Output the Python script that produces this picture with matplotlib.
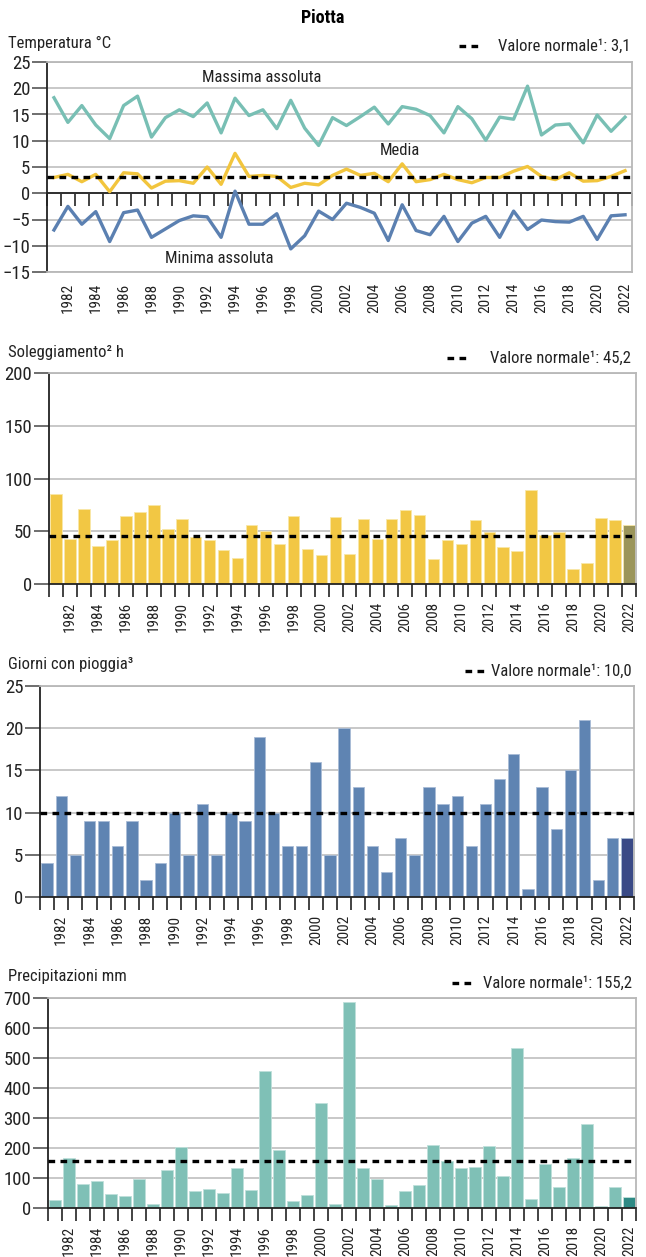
import numpy as np
import matplotlib.pyplot as plt
from matplotlib.lines import Line2D

plt.rcParams['font.family'] = ['Roboto Condensed', 'Roboto', 'DejaVu Sans']

# =============================================
# Data
# =============================================
years = list(range(1981, 2023))

t_max = [18.2, 13.5, 16.7, 13.0, 10.4, 16.7, 18.5, 10.7, 14.4, 15.9,
         14.6, 17.2, 11.5, 18.1, 14.8, 15.9, 12.3, 17.7, 12.4, 9.1,
         14.4, 12.9, 14.6, 16.4, 13.2, 16.5, 16.0, 14.8, 11.5, 16.5,
         14.2, 10.1, 14.5, 14.1, 20.4, 11.1, 13.0, 13.2, 9.6, 14.9,
         11.8, 14.5]
t_mean = [3.0, 3.6, 2.2, 3.6, 0.3, 3.9, 3.7, 1.0, 2.3, 2.4,
          1.9, 5.0, 1.7, 7.6, 3.2, 3.4, 3.2, 1.1, 1.9, 1.6,
          3.4, 4.6, 3.4, 3.8, 2.2, 5.6, 2.2, 2.6, 3.6, 2.6,
          2.0, 3.0, 3.0, 4.2, 5.1, 3.2, 2.6, 3.9, 2.3, 2.4,
          3.2, 4.3]
t_min = [-7.0, -2.5, -5.9, -3.5, -9.2, -3.7, -3.2, -8.4, -6.8, -5.2,
         -4.3, -4.5, -8.4, 0.4, -5.9, -5.9, -3.9, -10.6, -8.1, -3.4,
         -5.0, -1.9, -2.7, -3.8, -9.0, -2.2, -7.1, -7.9, -4.4, -9.2,
         -5.7, -4.4, -8.4, -3.4, -6.9, -5.1, -5.4, -5.5, -4.4, -8.8,
         -4.3, -4.1]
t_normal = 3.1

sunshine = [85.4, 42.7, 71.2, 36.1, 42.1, 64.2, 68.7, 75.0, 52.5, 61.4,
            44.6, 42.1, 32.3, 25.0, 56.0, 50.3, 38.3, 64.6, 32.9, 27.5,
            63.6, 28.5, 61.7, 42.7, 61.4, 69.9, 65.5, 23.7, 41.8, 38.0,
            60.4, 49.7, 35.1, 31.3, 88.9, 46.8, 49.7, 13.9, 19.9, 62.7,
            60.4, 56.0]
sun_normal = 45.2

rain_days = [4, 12, 5, 9, 9, 6, 9, 2, 4, 10,
             5, 11, 5, 10, 9, 19, 10, 6, 6, 16,
             5, 20, 13, 6, 3, 7, 5, 13, 11, 12,
             6, 11, 14, 17, 1, 13, 8, 15, 21, 2,
             7, 7]
rain_normal = 10.0

precip = [28, 167, 80, 89, 48, 39, 98, 14, 127, 204,
          58, 63, 51, 134, 61, 458, 194, 24, 43, 350,
          12, 687, 134, 96, 10, 57, 76, 210, 158, 132,
          138, 208, 106, 532, 31, 148, 70, 168, 281, 6,
          71, 36]
precip_normal = 155.2

# =============================================
# Styling
# =============================================
W, H = 646, 1257
fig = plt.figure(figsize=(W / 100, H / 100), dpi=100)
renderer = fig.canvas.get_renderer()

grid_c = '#c4c4c4'
frame_c = '#b8b8b8'
text_c = '#222222'
x = np.arange(len(years))
bounds = np.arange(-0.5, len(years), 1.0)
label_idx = [i for i, y in enumerate(years) if y % 2 == 0]


def fx(px):
    return px / W


def fy(py):
    return 1 - py / H


def make_axes(left, top, right, bottom):
    return fig.add_axes([fx(left), fy(bottom), fx(right) - fx(left), fy(top) - fy(bottom)])


def style(ax, ylim, yticks, label_pad, minor_ticks=True):
    ax.set_xlim(-0.5, len(years) - 0.5)
    ax.set_ylim(*ylim)
    ax.set_yticks(yticks)
    ax.tick_params(axis='y', length=11, width=1.2, color='#555555', labelsize=13.5,
                   labelcolor=text_c, pad=1)
    ax.yaxis.grid(True, color=grid_c, linewidth=1.3)
    ax.set_axisbelow(True)
    ax.set_xticks(label_idx)
    ax.set_xticklabels([str(years[i]) for i in label_idx], rotation=90, fontsize=11,
                       color=text_c)
    ax.tick_params(axis='x', which='major', length=0, pad=label_pad)
    if minor_ticks:
        ax.set_xticks(bounds, minor=True)
        ax.tick_params(axis='x', which='minor', length=9, width=1.2, color=text_c)
    for s in ['top', 'right']:
        ax.spines[s].set_color(frame_c)
        ax.spines[s].set_linewidth(1.3)
    ax.spines['left'].set_color(text_c)
    ax.spines['left'].set_linewidth(1.3)
    ax.spines['bottom'].set_color(text_c)
    ax.spines['bottom'].set_linewidth(1.3)


def header(text, py):
    fig.text(fx(8), fy(py), text, fontsize=12, va='center', ha='left', color=text_c)


def normal_legend(text, py, gap, text_x1):
    t = fig.text(fx(text_x1), fy(py), text, fontsize=12, va='center', ha='right', color=text_c)
    x0 = t.get_window_extent(renderer).x0 - gap
    fig.add_artist(Line2D([fx(x0 - 24), fx(x0)], [fy(py), fy(py)],
                          transform=fig.transFigure, color='black',
                          linewidth=2.4, linestyle=(0, (2.0, 1.6))))


def normal_line(ax, value):
    ax.axhline(value, color='black', linewidth=2.4, linestyle=(0, (2.0, 1.6)), zorder=4)


fig.text(fx(323), fy(18), 'Piotta', fontsize=13, fontweight='bold', ha='center', va='center')

# ---- Panel 1: Temperatura ----
ax = make_axes(47, 62, 632, 272)
style(ax, (-15, 25), np.arange(-15, 26, 5), label_pad=8, minor_ticks=False)
ax.spines['bottom'].set_color(frame_c)
ax.axhline(0, color=text_c, linewidth=1.3, zorder=2)
sec = ax.secondary_xaxis(15 / 40)
sec.set_xticks(bounds)
sec.tick_params(axis='x', length=9, width=1.2, color=text_c, labelbottom=False)
sec.spines['bottom'].set_visible(False)
ax.plot(x, t_max, color='#78bfb4', linewidth=2.4, zorder=3)
ax.plot(x, t_mean, color='#f2c53d', linewidth=2.4, zorder=3)
ax.plot(x, t_min, color='#5b80b1', linewidth=2.4, zorder=3)
normal_line(ax, t_normal)
ax.text(14.9, 22.1, 'Massima assoluta', fontsize=12, ha='center', va='center', color=text_c)
ax.text(24.8, 8.2, 'Media', fontsize=12, ha='center', va='center', color=text_c)
ax.text(11.9, -12.4, 'Minima assoluta', fontsize=12, ha='center', va='center', color=text_c)
header('Temperatura °C', 43)
normal_legend('Valore normale¹: 3,1', 46, 16, 631)

# ---- Panel 2: Soleggiamento ----
ax = make_axes(49, 373, 636, 584)
style(ax, (0, 200), np.arange(0, 201, 50), label_pad=13)
sun_colors = ['#f2c744'] * (len(years) - 1) + ['#9b955a']
ax.bar(x, sunshine, width=0.82, color=sun_colors, edgecolor='#f8e7a8', linewidth=0.6, zorder=2)
normal_line(ax, sun_normal)
header('Soleggiamento² h', 353)
normal_legend('Valore normale¹: 45,2', 358, 19, 631)

# ---- Panel 3: Giorni con pioggia ----
ax = make_axes(40, 686, 634, 897)
style(ax, (0, 25), np.arange(0, 26, 5), label_pad=13)
rain_colors = ['#5f84b2'] * (len(years) - 1) + ['#3a4a86']
ax.bar(x, rain_days, width=0.8, color=rain_colors, edgecolor='#a9bcd6', linewidth=0.6, zorder=2)
normal_line(ax, rain_normal)
header('Giorni con pioggia³', 665)
normal_legend('Valore normale¹: 10,0', 671, 2, 632)

# ---- Panel 4: Precipitazioni ----
ax = make_axes(48, 998, 636, 1208)
style(ax, (0, 700), np.arange(0, 701, 100), label_pad=13)
prec_colors = ['#7fc0b6'] * (len(years) - 1) + ['#2e8a85']
ax.bar(x, precip, width=0.8, color=prec_colors, edgecolor='#bfe0da', linewidth=0.6, zorder=2)
normal_line(ax, precip_normal)
header('Precipitazioni mm', 977)
normal_legend('Valore normale¹: 155,2', 983, 7, 632)

plt.savefig('out.png', dpi=100)
